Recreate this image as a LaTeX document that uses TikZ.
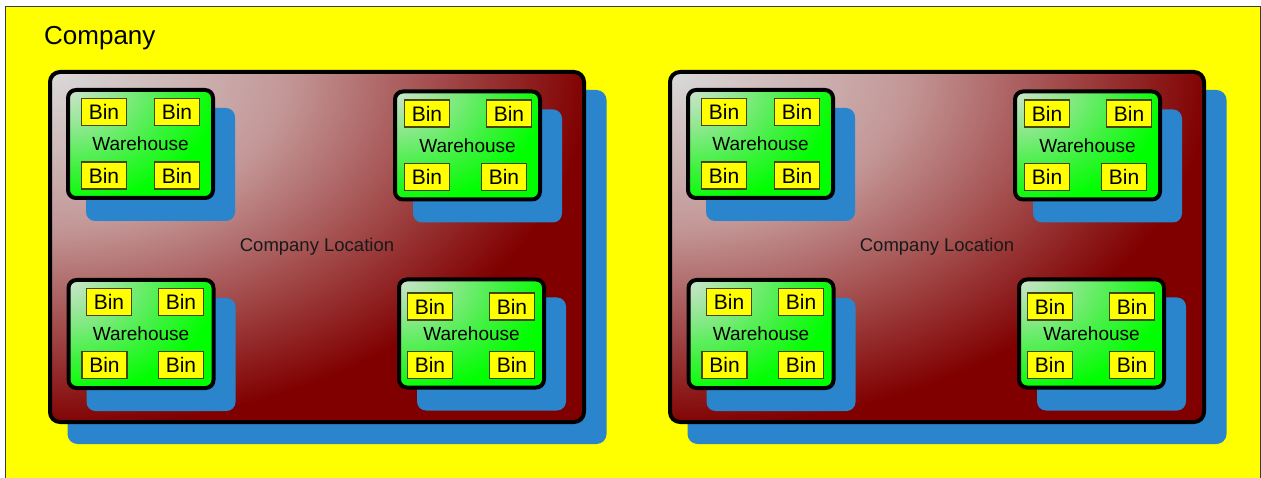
\documentclass[tikz,border=0pt]{standalone}
\usepackage{fontspec}
\setmainfont{Liberation Sans}
\definecolor{ShadowBlue}{RGB}{42,133,204}
\definecolor{Maroon}{RGB}{128,0,0}
\definecolor{LocLight}{RGB}{218,218,218}
\definecolor{LocMid}{RGB}{195,150,150}
\definecolor{LocDeep}{RGB}{165,80,80}
\definecolor{WhLight}{RGB}{205,228,205}
\definecolor{WhMid}{RGB}{140,232,140}
\definecolor{WhDeep}{RGB}{60,242,60}
\definecolor{WhGreen}{RGB}{0,255,0}
\definecolor{BinYellow}{RGB}{255,255,0}
\definecolor{BinEdge}{RGB}{70,70,10}
\definecolor{FrameGrey}{RGB}{60,60,60}
\pgfdeclareradialshading{locshade}{\pgfpoint{0bp}{0bp}}{color(0bp)=(LocLight); color(11bp)=(LocMid); color(17.5bp)=(LocDeep); color(25bp)=(Maroon); color(50bp)=(Maroon)}
\pgfdeclareradialshading{whshade}{\pgfpoint{0bp}{0bp}}{color(0bp)=(WhLight); color(8.5bp)=(WhMid); color(17.5bp)=(WhDeep); color(25bp)=(WhGreen); color(50bp)=(WhGreen)}
\begin{document}
\begin{tikzpicture}[
        x=1pt, y=-1pt,
        locshadow/.style={fill=ShadowBlue, rounded corners=10pt, inner sep=0pt,
                     minimum width=539pt, minimum height=354pt},
        locbox/.style={draw=black, fill=Maroon, line width=4pt, rounded corners=10pt, inner sep=0pt,
                     minimum width=534pt, minimum height=350pt,
                     font=\fontsize{18.5}{22}\selectfont, text=black!90,
                     path picture={\shade[shading=locshade] (path picture bounding box.north west)
                         ellipse [x radius=540pt, y radius=356pt];}},
        whshadow/.style={fill=ShadowBlue, rounded corners=9pt, inner sep=0pt,
                     minimum width=149pt, minimum height=113pt},
        whbox/.style={draw=black, fill=WhGreen, line width=4pt, rounded corners=8pt, inner sep=0pt,
                     minimum width=145pt, minimum height=108pt,
                     font=\fontsize{19}{22}\selectfont,
                     path picture={\shade[shading=whshade] (path picture bounding box.north west)
                         ellipse [x radius=150pt, y radius=114pt];}},
        bin/.style={fill=BinYellow, draw=BinEdge, line width=1.2pt, inner sep=0pt,
                     minimum width=45pt, minimum height=27pt,
                     font=\fontsize{21}{24}\selectfont}
    ]
        \useasboundingbox (0,0) rectangle (1261,478);
        \fill[white] (0,0) rectangle (1261,478);
        \filldraw[fill=BinYellow, draw=FrameGrey, line width=1pt] (5.5,6.5) rectangle (1260.5,490);
        \node[anchor=base west, inner sep=0pt, font=\fontsize{26}{30}\selectfont] (company) at (44,45) {Company};

        % two company locations, the second one shifted to the right
        \foreach \dx/\s in {0/a, 620/b}{
            \begin{scope}[xshift=\dx pt]
                \node[locshadow] (locshadow\s) at (337,267) {};
                \node[locbox] (loc\s) at (317,247) {Company Location};

                \foreach \i/\cx/\cy in {1/140.5/144, 2/467.5/145.5, 3/141/334, 4/471.5/333.5}{
                    \node[whshadow] (whshadow\s\i) at (\cx+20,\cy+20.5) {};
                    \node[whbox] (wh\s\i) at (\cx,\cy) {Warehouse};
                }

                \foreach \x/\y [count=\j] in {104/112, 177/112, 104/175.5, 177/175.5,
                        427/113.5, 509/113.5, 427/177, 504/177,
                        109/302, 181/302, 104.5/365, 181/365,
                        430/306.5, 512/306.5, 430/365, 512/365}
                    \node[bin] (bin\s\j) at (\x,\y) {Bin};
            \end{scope}
        }
    \end{tikzpicture}
\end{document}
